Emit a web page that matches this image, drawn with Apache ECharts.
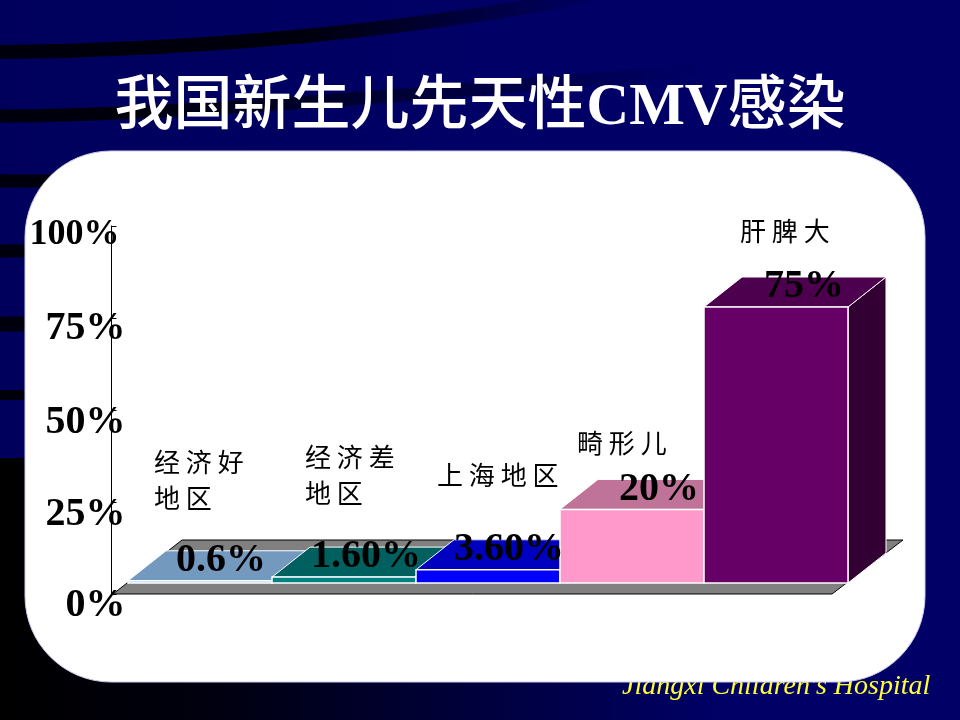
<!DOCTYPE html>
<html><head><meta charset="utf-8">
<style>html,body{margin:0;padding:0;background:#000066}#c{width:960px;height:720px}</style>
<script src="https://cdn.jsdelivr.net/npm/echarts@6/dist/echarts.min.js"></script></head>
<body><div id="c"></div>
<script>
const categories = ['经 济 好\n地 区','经 济 差\n地 区','上 海 地 区','畸 形 儿','肝 脾 大'];
const values = [0.6, 1.6, 3.6, 20, 75];
const valueLabels = ['0.6%','1.60%','3.60%','20%','75%'];
const yTicks = [0, 25, 50, 75, 100];
const yLabelPad = [24, 26, 26, 22, 18];
const frontColors = ['#99CCFF','#008080','#0000FF','#FF99CC','#660066'];
const topColors = ['#7399BF','#006060','#0000C0','#BF7399','#4D004D'];
const sideColors = ['#4D6680','#004040','#000080','#804D66','#330033'];
const valueLabelDx = [21,22,21,27,28];
const catAnchor = [[154,480],[305,475],[437,475],[577,443],[740,231]];
const DEPTH = [38,-30], FLOOR = [71,-54];
const CJK = '"Noto Sans CJK SC"';
const LAB = {fontFamily:'"Liberation Serif"',fontSize:40,fontWeight:'bold',color:'#000'};

const chart = echarts.init(document.getElementById('c'), null, {renderer:'canvas'});
const poly = (pts, fill, stroke, lw, z2) => ({type:'polygon', shape:{points:pts},
  style:{fill, stroke, lineWidth:lw||0}, z2:z2||0});
const fade = (stop) => new echarts.graphic.LinearGradient(0,0,1,0,[
  {offset:0,color:'#00000c'},{offset:stop,color:'#00000c'},{offset:1,color:'#000066'}]);
function stripe(x1,y1,c1x,c1y,c2x,c2y,x2,y2,w,stop){ return {type:'bezierCurve', z:-9,
  shape:{x1,y1,cpx1:c1x,cpy1:c1y,cpx2:c2x,cpy2:c2y,x2,y2},
  style:{fill:'none', stroke:fade(stop), lineWidth:w}}; }
function band(y,w){ return {type:'rect', z:-9, shape:{x:0,y:y-w/2,width:70,height:w}, style:{fill:'#00000c'}}; }

const yRich = {};
yTicks.forEach((t,i)=>{ yRich['t'+t] = Object.assign({}, LAB,
  {fontSize:t===100?36:40, padding:[yLabelPad[i], t===100?6:0, 0, 0]}); });

const option = {
  animation:false,
  title:{ text:'{c|我国新生儿先天性}{l|CMV}{c|感染}', left:'center', top:65, padding:0,
    textStyle:{ rich:{ c:{fontFamily:CJK,fontSize:59,fontWeight:500,color:'#fff',lineHeight:74},
                       l:{fontFamily:'"Liberation Serif"',fontSize:59,fontWeight:'bold',color:'#fff',lineHeight:74,padding:[14,0,0,0]} } } },
  graphic:[
    {type:'rect', z:-10, shape:{x:0,y:0,width:960,height:720},
     style:{fill:new echarts.graphic.LinearGradient(0,0,1,0,[{offset:0,color:'#00005c'},{offset:0.5,color:'#000066'},{offset:1,color:'#000066'}])}},
    stripe(0,52, 200,50, 400,32, 600,-6, 14, 0.5),
    stripe(0,116, 120,116, 320,104, 700,70, 13, 0.18),
    band(181,13), band(251,13), band(324,15), band(395,10),
    {type:'rect', z:-9, shape:{x:0,y:458,width:720,height:262},
     style:{fill:new echarts.graphic.LinearGradient(0,0,1,0,[{offset:0,color:'#000000'},{offset:0.3,color:'#000010'},{offset:1,color:'#000066'}])}},
    {type:'text', z:-5, x:622, y:673, style:{text:"Jiangxi Children's Hospital", fill:'#FFFF33',
      font:'italic 28px "Liberation Serif"'}},
    {type:'rect', z:-4, shape:{x:25,y:151,width:900,height:531,r:86},
     style:{fill:'#fff', stroke:'#ccccee', lineWidth:1}}
  ],
  grid:[
    {left:128, width:720, top:215, height:368},
    {left:111.5, width:720.5, top:226, height:368}
  ],
  xAxis:[
    {type:'category', gridIndex:0, data:categories, show:false},
    {type:'category', gridIndex:1, data:[''], show:false}
  ],
  yAxis:[
    {type:'value', gridIndex:0, min:0, max:100, interval:25, show:false},
    {type:'value', gridIndex:1, min:0, max:100, interval:25,
     axisLine:{show:true, lineStyle:{color:'#000',width:1}},
     axisTick:{show:true, inside:true, length:5, lineStyle:{color:'#000',width:1}},
     splitLine:{show:false},
     axisLabel:Object.assign({margin:-14, formatter:v=>'{t'+v+'|'+v+'%}', rich:yRich}, LAB)}
  ],
  series:[
    { type:'custom', xAxisIndex:1, yAxisIndex:1, data:[0], z:1, silent:true,
      renderItem:(p,api)=>{
        const cs = p.coordSys;
        const L=cs.x+1.5, R=cs.x+cs.width, Y=cs.y+cs.height;
        return {type:'group', children:[
          poly([[L,Y],[R,Y],[R+FLOOR[0],Y+FLOOR[1]],[L+FLOOR[0]-2,Y+FLOOR[1]]],'#808080','#000',1)
        ]};
      }},
    { type:'custom', xAxisIndex:0, yAxisIndex:0, z:2, silent:true,
      data:values.map((v,i)=>[i,v]),
      renderItem:(p,api)=>{
        const i = api.value(0), v = api.value(1);
        const base = api.coord([i,0]), top = api.coord([i,v]);
        const w = api.size([1,0])[0];
        const l = base[0]-w/2, r = base[0]+w/2, b = base[1], t = top[1];
        const [dx,dy] = DEPTH;
        const white = '#fff';
        return {type:'group', children:[
          poly([[r,b],[r+dx,b+dy],[r+dx,t+dy],[r,t]], sideColors[i], white, 1),
          poly([[l,t],[r,t],[r+dx,t+dy],[l+dx,t+dy]], topColors[i], white, 1),
          poly([[l,b],[r,b],[r,t],[l,t]], frontColors[i], white, 1.5),
          {type:'text', z2:5, x:base[0]+valueLabelDx[i], y:t-20,
           style:{text:valueLabels[i], fill:'#000', font:'bold 40px "Liberation Serif"',
                  align:'center', verticalAlign:'middle'}},
          {type:'text', z2:5, x:catAnchor[i][0], y:catAnchor[i][1],
           style:{text:categories[i], fill:'#000', font:'26px '+CJK, lineHeight:36,
                  align:'left', verticalAlign:'middle'}}
        ]};
      }}
  ]
};
chart.setOption(option);
</script></body></html>
